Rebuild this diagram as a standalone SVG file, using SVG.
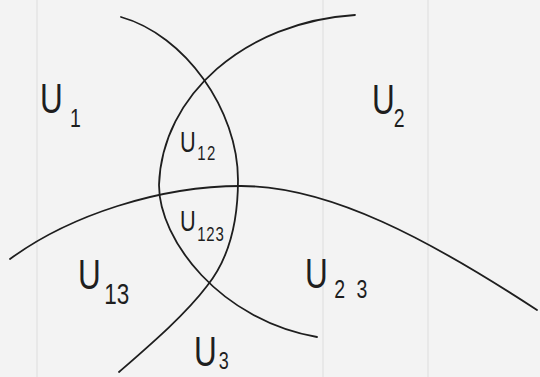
<svg xmlns="http://www.w3.org/2000/svg" width="540" height="377" viewBox="0 0 540 377">
<style>
.curve{fill:none;stroke:#1e1e1e;stroke-width:1.8;stroke-linecap:round}
.lbl{font-family:"Liberation Sans","DejaVu Sans",sans-serif;fill:#1e1e1e;font-size:42px}
.sm{font-size:29px}
.rule{stroke:#e8e8e8;stroke-width:2}
</style>
<rect width="540" height="377" fill="#f3f3f3"/>
<g id="paper">
<line class="rule" x1="37" y1="0" x2="37" y2="377"/>
<line class="rule" x1="323" y1="0" x2="323" y2="377"/>
<line class="rule" x1="428" y1="0" x2="428" y2="377"/>
</g>
<g id="connectors">
<path id="curveA" class="curve" d="M121,17 C185,35 238,110 238,180 C238,225 228,260 207,286 C185,315 150,345 119,372"/>
<path id="curveB" class="curve" d="M355,15 C245,22 162,95 159,185 C159,240 220,320 317,337"/>
<path id="curveC" class="curve" d="M10,259 C70,215 160,186 241,186 C330,186 430,240 537,310"/>
</g>
<g id="U1"><text class="lbl" transform="translate(40,113) scale(0.75,1)">U<tspan x="40" dy="14" font-size="26">1</tspan></text></g>
<g id="U2"><text class="lbl" transform="translate(372,114) scale(0.75,1)">U<tspan x="29" dy="13" font-size="26">2</tspan></text></g>
<g id="U12"><text class="lbl sm" transform="translate(180,152) scale(0.75,1)">U<tspan x="23" dy="8" font-size="20" letter-spacing="2">12</tspan></text></g>
<g id="U123"><text class="lbl sm" transform="translate(180,231) scale(0.75,1)">U<tspan x="23" dy="10" font-size="20" letter-spacing="1">123</tspan></text></g>
<g id="U13"><text class="lbl" transform="translate(78,289) scale(0.75,1)">U<tspan x="35" dy="15" font-size="30">13</tspan></text></g>
<g id="U23"><text class="lbl" transform="translate(305,288) scale(0.75,1)">U<tspan x="39" dy="10" font-size="26" letter-spacing="4">2 3</tspan></text></g>
<g id="U3"><text class="lbl" font-size="32" transform="translate(194,366) scale(0.75,1)">U<tspan x="33" dy="3" font-size="24">3</tspan></text></g>
</svg>
